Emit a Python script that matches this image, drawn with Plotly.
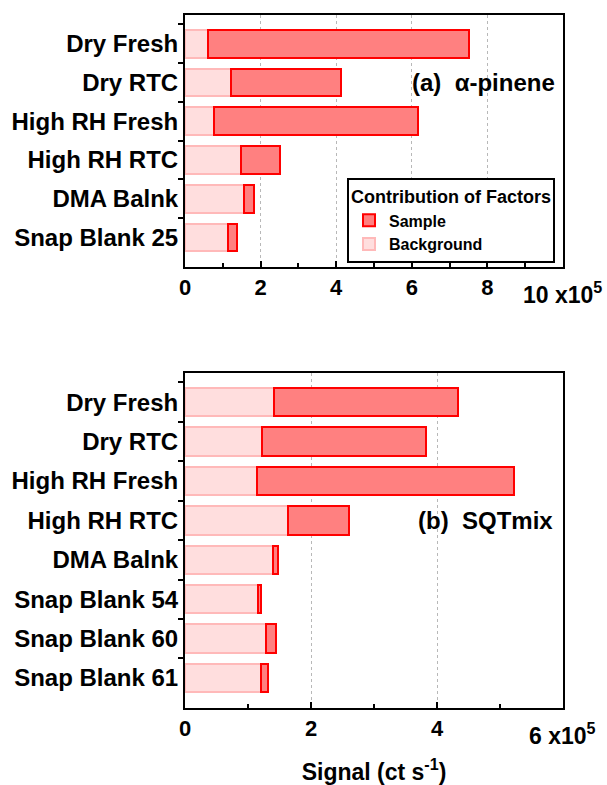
import plotly.graph_objects as go

FONT = "Liberation Sans, Arial, sans-serif"

# Panel (a): alpha-pinene, signal in units of 1e5 ct/s
cats_a = ["Dry Fresh", "Dry RTC", "High RH Fresh", "High RH RTC", "DMA Balnk", "Snap Blank 25"]
bg_a = [0.62, 1.22, 0.78, 1.49, 1.55, 1.13]
sample_a = [6.88, 2.90, 5.38, 1.02, 0.28, 0.24]

# Panel (b): SQTmix
cats_b = ["Dry Fresh", "Dry RTC", "High RH Fresh", "High RH RTC", "DMA Balnk",
          "Snap Blank 54", "Snap Blank 60", "Snap Blank 61"]
bg_b = [1.41, 1.22, 1.15, 1.63, 1.40, 1.16, 1.28, 1.21]
sample_b = [2.92, 2.60, 4.08, 0.98, 0.08, 0.04, 0.17, 0.10]

xticks_a = [0, 2, 4, 6, 8]
xticks_b = [0, 2, 4]

BG_FILL = "#ffdede"
BG_LINE = "#ffb9b9"
S_FILL = "#ff8080"
S_LINE = "#ff0000"
BAR_W = 0.72

fig = go.Figure()

fig.add_trace(go.Bar(y=cats_a, x=bg_a, orientation="h", width=BAR_W, name="Background",
                     marker=dict(color=BG_FILL, line=dict(color=BG_LINE, width=2)),
                     xaxis="x", yaxis="y", legendrank=2))
fig.add_trace(go.Bar(y=cats_a, x=sample_a, orientation="h", width=BAR_W, name="Sample",
                     marker=dict(color=S_FILL, line=dict(color=S_LINE, width=2)),
                     xaxis="x", yaxis="y", legendrank=1))
fig.add_trace(go.Bar(y=cats_b, x=bg_b, orientation="h", width=BAR_W, name="Background",
                     marker=dict(color=BG_FILL, line=dict(color=BG_LINE, width=2)),
                     xaxis="x2", yaxis="y2", showlegend=False))
fig.add_trace(go.Bar(y=cats_b, x=sample_b, orientation="h", width=BAR_W, name="Sample",
                     marker=dict(color=S_FILL, line=dict(color=S_LINE, width=2)),
                     xaxis="x2", yaxis="y2", showlegend=False))

H = 785
mt, mb = 15, 77
ph = H - mt - mb


def py(pix):
    return (H - mb - pix) / ph


xcommon = dict(showline=True, linecolor="black", linewidth=2, mirror=True,
               ticks="inside", ticklen=6, tickwidth=2, tickcolor="black",
               showgrid=True, gridcolor="#b8b8b8", griddash="dot", gridwidth=1,
               zeroline=False, automargin=False,
               minor=dict(ticks="inside", ticklen=4, tickwidth=2, tickcolor="black",
                          dtick=1, showgrid=False),
               tickfont=dict(family=FONT, size=22, color="black", weight="bold"))
ycommon = dict(type="category", showline=True, linecolor="black", linewidth=2, mirror=True,
               ticks="outside", ticklen=5, tickwidth=2, tickcolor="black",
               tickson="boundaries", showgrid=False, zeroline=False, automargin=False,
               tickfont=dict(family=FONT, size=24, color="black", weight="bold"))

fig.update_layout(
    width=607, height=H,
    margin=dict(l=185, r=44, t=mt, b=mb),
    paper_bgcolor="white", plot_bgcolor="white",
    barmode="stack", bargap=0.28,
    xaxis=dict(domain=[0, 1], anchor="y", range=[0, 10], tickvals=xticks_a, **xcommon),
    yaxis=dict(domain=[py(267), 1], anchor="x", range=[5.76, -0.74],
               categoryorder="array", categoryarray=cats_a, **ycommon),
    xaxis2=dict(domain=[0, 1], anchor="y2", range=[0, 6], tickvals=xticks_b,
                title=dict(text="Signal (ct s<sup>-1</sup>)", standoff=27,
                           font=dict(family=FONT, size=23, color="black", weight="bold")),
                **xcommon),
    yaxis2=dict(domain=[0, py(373)], anchor="x2", range=[7.76, -0.74],
                categoryorder="array", categoryarray=cats_b, **ycommon),
    legend=dict(x=(347 - 185) / 378, y=py(178), xanchor="left", yanchor="top",
                bgcolor="white", bordercolor="black", borderwidth=2,
                traceorder="normal",
                title=dict(text="Contribution of Factors", side="top",
                           font=dict(family=FONT, size=18, color="black", weight="bold")),
                font=dict(family=FONT, size=16, color="black", weight="bold"),
                itemsizing="constant"),
    showlegend=True,
)

ann_font = dict(family=FONT, size=24, color="black", weight="bold")
fig.add_annotation(text="(a)\u00a0\u00a0α-pinene", xref="x", yref="paper", x=9.84, y=py(82),
                   xanchor="right", yanchor="middle", showarrow=False, font=ann_font)
fig.add_annotation(text="(b)\u00a0\u00a0SQTmix", xref="x2", yref="paper", x=5.87, y=py(520),
                   xanchor="right", yanchor="middle", showarrow=False, font=ann_font)
tick_font = dict(family=FONT, size=23, color="black", weight="bold")
fig.add_annotation(text="10 x10<sup>5</sup>", xref="x", yref="paper", x=(521 - 185) / 37.8,
                   y=py(276), xanchor="left", yanchor="top", showarrow=False, font=tick_font)
fig.add_annotation(text="6 x10<sup>5</sup>", xref="x2", yref="paper", x=(527 - 185) / 63,
                   y=py(717), xanchor="left", yanchor="top", showarrow=False, font=tick_font)

fig.write_html("out.html")
